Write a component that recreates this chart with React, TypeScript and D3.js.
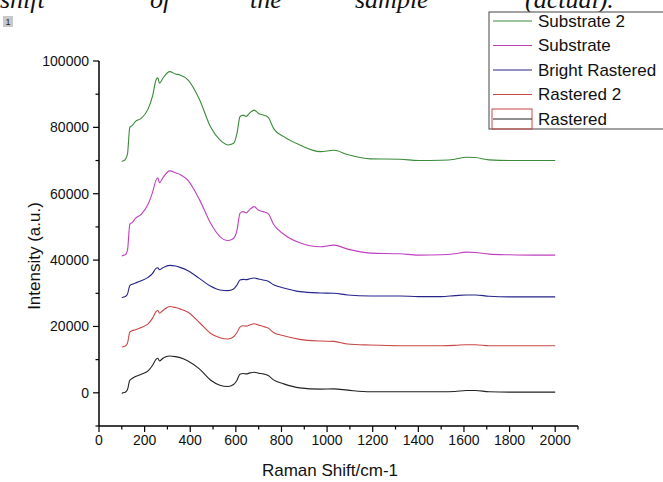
import React from "react";
import * as d3 from "d3";

// Raman shift positions (cm-1) shared by every spectrum
const shifts = [100, 105, 115, 125, 135, 145, 160, 185, 215, 235, 250, 258, 265, 280, 310, 335, 355, 390, 440, 490,
  530, 565, 590, 605, 618, 632, 645, 662, 680, 700, 720, 742, 765, 810, 880, 970, 1030, 1090, 1190, 1320,
  1400, 1500, 1560, 1610, 1650, 1710, 1800, 1900, 2000];

const substrate2 = [69700, 69900, 70300, 72000, 80000, 80500, 81800, 82700, 85500, 89500, 94300, 94900, 93300, 94800, 96800, 96100, 95800, 94300, 88500, 80000,
  76200, 74700, 75200, 78200, 83200, 83700, 83300, 84400, 85200, 84200, 83700, 83000, 79700, 77200, 74700, 72700, 73100, 71800, 70500, 70400,
  70000, 70100, 70400, 71000, 70900, 70200, 70000, 70000, 70000];

const substrate = [41200, 41400, 41600, 43000, 50800, 51300, 52600, 53800, 56800, 60500, 64100, 64800, 63300, 64800, 66900, 66300, 65800, 64000, 58300, 51000,
  47100, 45900, 46500, 49000, 54100, 54600, 54200, 55300, 56100, 55000, 54600, 54000, 50800, 47800, 45200, 44000, 44500, 43300, 42100, 41900,
  41500, 41600, 41900, 42400, 42300, 41800, 41600, 41500, 41500];

const brightRastered = [28700, 28800, 29000, 29800, 32300, 32700, 33100, 33800, 34800, 36000, 37500, 37700, 37100, 37700, 38400, 38200, 37800, 36800, 34500, 32100,
  31000, 30800, 31300, 32500, 34000, 34200, 34100, 34400, 34600, 34300, 34000, 33600, 32600, 31600, 30500, 30100, 30000, 29500, 29200, 29200,
  29000, 29000, 29300, 29500, 29500, 29100, 28900, 28900, 28900];

const rastered2 = [13800, 13900, 14100, 15000, 18300, 18700, 19000, 19700, 20800, 22500, 24500, 24800, 24000, 24800, 26000, 25700, 25300, 24300, 21200, 17900,
  16600, 16200, 16900, 18200, 19800, 20200, 20100, 20500, 20800, 20400, 20000, 19500, 18200, 17200, 16100, 15600, 15500, 14700, 14400, 14200,
  14200, 14200, 14300, 14500, 14500, 14200, 14200, 14200, 14200];

const rastered = [-200, 0, 200, 1000, 3800, 4300, 4900, 5600, 6600, 8300, 10100, 10400, 9600, 10400, 11100, 10900, 10600, 9600, 7200, 3800,
  2300, 1900, 2500, 3800, 5600, 5800, 5700, 6000, 6200, 5900, 5700, 5200, 3900, 2700, 1500, 1100, 1200, 800, 300, 300,
  300, 300, 400, 700, 700, 300, 200, 200, 200];

const seriesNames = ["Substrate 2", "Substrate", "Bright Rastered", "Rastered 2", "Rastered"];
const seriesValues = [substrate2, substrate, brightRastered, rastered2, rastered];
const seriesColors = ["#3a8a3a", "#c040c0", "#25258a", "#c84848", "#222222"];

const xTicks = d3.range(0, 2001, 200);
const xMinor = d3.range(0, 2101, 100);
const yTicks = d3.range(0, 100001, 20000);
const yMinor = d3.range(-10000, 100001, 10000);

// justified line of the surrounding document, cut by the crop
const headerWords = ["shift", "of", "the", "sample", "(actual)."];
const headerX = [0, 150, 250, 355, 525];

export default function App() {
  const width = 663, height = 482;
  const left = 99, right = 578, top = 61, bottom = 426;

  const xScale = d3.scaleLinear().domain([0, 2100]).range([left, right]);
  const yScale = d3.scaleLinear().domain([-10000, 100000]).range([bottom, top]);

  const line = (vals: number[]) =>
    d3.line<number>()
      .x((_, i) => xScale(shifts[i]))
      .y((v) => yScale(v))
      .curve(d3.curveMonotoneX)(vals) || "";

  const font = "Arial, 'Liberation Sans', sans-serif";

  return (
    <svg width={width} height={height} style={{ position: "absolute", left: 0, top: 0, background: "#fff" }}>
      {headerWords.map((w, i) => (
        <text key={w} x={headerX[i]} y={8} fontFamily="'Liberation Serif', 'DejaVu Serif', serif" fontStyle="italic" fontSize={26} fill="#111">
          {w}
        </text>
      ))}
      <rect x={3} y={16} width={10} height={11} fill="#c8c8c8" />
      <text x={8} y={25} fontSize={9} fontFamily={font} textAnchor="middle" fill="#222">1</text>

      {/* spectra */}
      {seriesValues.map((vals, i) => (
        <path key={seriesNames[i]} d={line(vals)} fill="none" stroke={seriesColors[i]} strokeWidth={1.1} />
      ))}

      {/* y axis */}
      <line x1={left} x2={left} y1={top} y2={bottom} stroke="#000" strokeWidth={1.5} />
      {yMinor.map((v) => (
        <line key={"ym" + v} x1={left} x2={left - (v % 20000 === 0 ? 6 : 3.5)} y1={yScale(v)} y2={yScale(v)} stroke="#000" strokeWidth={1.2} />
      ))}
      {yTicks.map((v) => (
        <text key={"yt" + v} x={left - 10} y={yScale(v)} dy="0.35em" textAnchor="end" fontSize={14} fontFamily={font} fill="#111">
          {v}
        </text>
      ))}

      {/* x axis */}
      <line x1={left} x2={right} y1={bottom} y2={bottom} stroke="#000" strokeWidth={1.5} />
      {xMinor.map((v) => (
        <line key={"xm" + v} x1={xScale(v)} x2={xScale(v)} y1={bottom} y2={bottom + (v % 200 === 0 ? 6 : 3.5)} stroke="#000" strokeWidth={1.2} />
      ))}
      {xTicks.map((v) => (
        <text key={"xt" + v} x={xScale(v)} y={bottom + 19} textAnchor="middle" fontSize={14} fontFamily={font} fill="#111">
          {v}
        </text>
      ))}

      {/* axis titles */}
      <text x={330} y={476} textAnchor="middle" fontSize={17} fontFamily={font} fill="#111">
        Raman Shift/cm-1
      </text>
      <text transform={`translate(40, 256) rotate(-90)`} textAnchor="middle" fontSize={17} fontFamily={font} fill="#111">
        Intensity (a.u.)
      </text>

      {/* legend */}
      <rect x={489} y={12} width={190} height={117} fill="#fff" stroke="#444" strokeWidth={1} />
      {seriesNames.map((name, i) => {
        const ly = 21 + i * 24.5;
        return (
          <g key={"lg" + name}>
            {i === seriesNames.length - 1 && (
              <rect x={492} y={ly - 10} width={40} height={20} fill="none" stroke="#c84848" strokeWidth={1} />
            )}
            <line x1={493} x2={532} y1={ly} y2={ly} stroke={seriesColors[i]} strokeWidth={1} />
            <text x={538} y={ly} dy="0.35em" fontSize={17} fontFamily={font} fill="#111">
              {name}
            </text>
          </g>
        );
      })}
    </svg>
  );
}
